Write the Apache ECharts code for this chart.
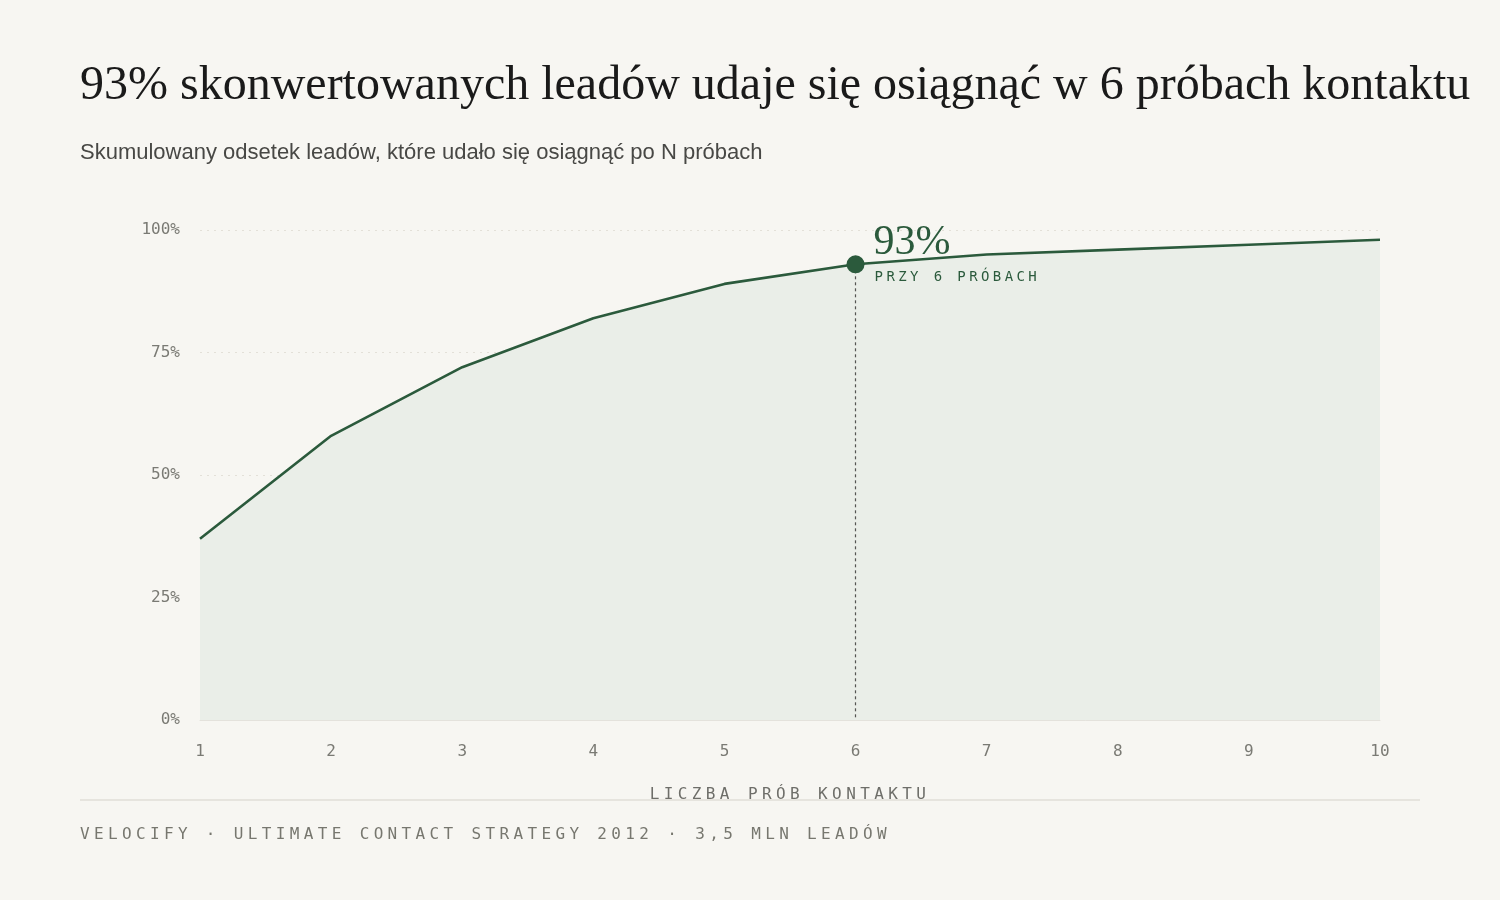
<!DOCTYPE html>
<html lang="pl">
<head>
<meta charset="utf-8">
<title>Próby kontaktu</title>
<script src="https://cdn.jsdelivr.net/npm/echarts@6/dist/echarts.min.js"></script>
<style>
  html, body {
    margin: 0;
    padding: 0;
    background: #f7f6f2;
  }
  #wrap {
    position: relative;
    width: 1500px;
    height: 900px;
  }
  #main {
    width: 1500px;
    height: 900px;
  }
  .mono {
    position: absolute;
    font-family: 'DejaVu Sans Mono', monospace;
    white-space: nowrap;
  }
  #axisName {
    top: 784px;
    left: 0;
    width: 1580px;
    text-align: center;
    font-size: 16px;
    letter-spacing: 4.4px;
    color: #6e6e69;
  }
  #rule {
    position: absolute;
    left: 80px;
    top: 799px;
    width: 1340px;
    height: 2px;
    background: #e6e4de;
  }
  #footer {
    left: 80px;
    top: 824px;
    font-size: 16px;
    letter-spacing: 4.35px;
    color: #77776f;
  }
  #note {
    font-size: 14px;
    letter-spacing: 3.4px;
    color: #2b5a3c;
  }
  #noteBig {
    position: absolute;
    font-family: 'Liberation Serif', serif;
    font-size: 42px;
    color: #2b5a3c;
    white-space: nowrap;
    line-height: 42px;
  }
</style>
</head>
<body>
<div id="wrap">
  <div id="main"></div>
  <div id="axisName" class="mono">LICZBA PRÓB KONTAKTU</div>
  <div id="rule"></div>
  <div id="footer" class="mono">VELOCIFY · ULTIMATE CONTACT STRATEGY 2012 · 3,5 MLN LEADÓW</div>
  <div id="noteBig"></div>
  <div id="note" class="mono">PRZY 6 PRÓBACH</div>
</div>
<script>
// liczba prób kontaktu
const attempts = ['1', '2', '3', '4', '5', '6', '7', '8', '9', '10']
// skumulowany odsetek osiągniętych leadów (%)
const reached = [37, 58, 72, 82, 89, 93, 95, 96, 97, 98]
const yTicks = [0, 25, 50, 75, 100]
const highlight = '6' // wyróżniona liczba prób

const green = '#2b5a3c'
const monoFont = 'DejaVu Sans Mono'

const chart = echarts.init(document.getElementById('main'))

chart.setOption({
  backgroundColor: '#f7f6f2',
  animation: false,
  title: [
    {
      text: '93% skonwertowanych leadów udaje się osiągnąć w 6 próbach kontaktu',
      left: 75,
      top: 57,
      textStyle: {
        fontFamily: 'Liberation Serif',
        fontWeight: 'normal',
        fontSize: 48,
        color: '#1a1a1a'
      }
    },
    {
      text: 'Skumulowany odsetek leadów, które udało się osiągnąć po N próbach',
      left: 75,
      top: 137,
      textStyle: {
        fontFamily: 'Liberation Sans',
        fontWeight: 'normal',
        fontSize: 22,
        color: '#484845'
      }
    }
  ],
  grid: {
    left: 200,
    right: 120,
    top: 230,
    bottom: 180
  },
  xAxis: {
    type: 'category',
    data: attempts,
    boundaryGap: false,
    axisLine: { show: true, lineStyle: { color: '#e4e2dc', width: 1 } },
    axisTick: { show: false },
    axisLabel: {
      margin: 24,
      fontFamily: monoFont,
      fontSize: 16,
      color: '#7a7a74'
    },
    splitLine: { show: false }
  },
  yAxis: {
    type: 'value',
    min: yTicks[0],
    max: yTicks[yTicks.length - 1],
    interval: 25,
    axisLine: { show: false },
    axisTick: { show: false },
    axisLabel: {
      margin: 20,
      fontFamily: monoFont,
      fontSize: 16,
      color: '#7a7a74',
      formatter: '{value}%'
    },
    splitLine: {
      show: true,
      lineStyle: { color: '#e3e0d8', type: [2, 5], width: 1 }
    }
  },
  series: [
    {
      type: 'line',
      data: reached,
      symbol: 'none',
      lineStyle: { color: green, width: 2.6 },
      areaStyle: { color: '#eaeee8', opacity: 1 },
      markLine: {
        silent: true,
        symbol: 'none',
        label: { show: false },
        lineStyle: { color: '#555552', width: 1.2, type: [3, 3] },
        data: [[
          { coord: [highlight, reached[attempts.indexOf(highlight)]] },
          { coord: [highlight, 0] }
        ]]
      },
      markPoint: {
        silent: true,
        symbol: 'circle',
        symbolSize: 18,
        itemStyle: { color: green },
        label: { show: false },
        data: [{ coord: [highlight, reached[attempts.indexOf(highlight)]] }]
      },
      z: 3
    }
  ]
})

// adnotacja przy wyróżnionym punkcie
const idx = attempts.indexOf(highlight)
const pt = chart.convertToPixel({ gridIndex: 0 }, [idx, reached[idx]])
const big = document.getElementById('noteBig')
big.textContent = reached[idx] + '%'
big.style.left = (pt[0] + 18) + 'px'
big.style.top = (pt[1] - 45) + 'px'
const note = document.getElementById('note')
note.style.left = (pt[0] + 19) + 'px'
note.style.top = (pt[1] + 4) + 'px'
</script>
</body>
</html>
